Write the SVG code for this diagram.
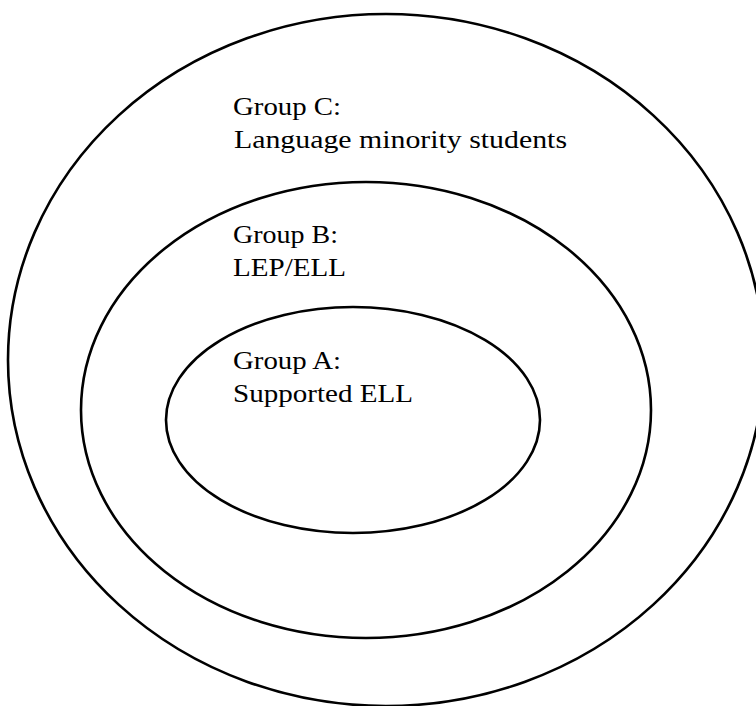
<svg xmlns="http://www.w3.org/2000/svg" width="756" height="706" viewBox="0 0 756 706">
<style>
.ring{fill:none;stroke:#000;stroke-width:2.6}
.lbl{font-family:"Liberation Serif","DejaVu Serif",serif;font-size:25px;fill:#000}
</style>
<rect width="756" height="706" fill="#fff"/>
<g id="groupC">
<ellipse class="ring" cx="386" cy="360" rx="378" ry="346"/>
<text class="lbl" x="233" y="115" textLength="108" lengthAdjust="spacingAndGlyphs">Group C:</text>
<text class="lbl" x="234" y="148" textLength="333" lengthAdjust="spacingAndGlyphs">Language minority students</text>
</g>
<g id="groupB">
<ellipse class="ring" cx="366" cy="410" rx="285" ry="228"/>
<text class="lbl" x="233" y="243" textLength="105" lengthAdjust="spacingAndGlyphs">Group B:</text>
<text class="lbl" x="233" y="276" textLength="113" lengthAdjust="spacingAndGlyphs">LEP/ELL</text>
</g>
<g id="groupA">
<ellipse class="ring" cx="353" cy="420" rx="187" ry="113"/>
<text class="lbl" x="233" y="369" textLength="108" lengthAdjust="spacingAndGlyphs">Group A:</text>
<text class="lbl" x="233" y="402" textLength="180" lengthAdjust="spacingAndGlyphs">Supported ELL</text>
</g>
<g id="connectors"></g>
</svg>
